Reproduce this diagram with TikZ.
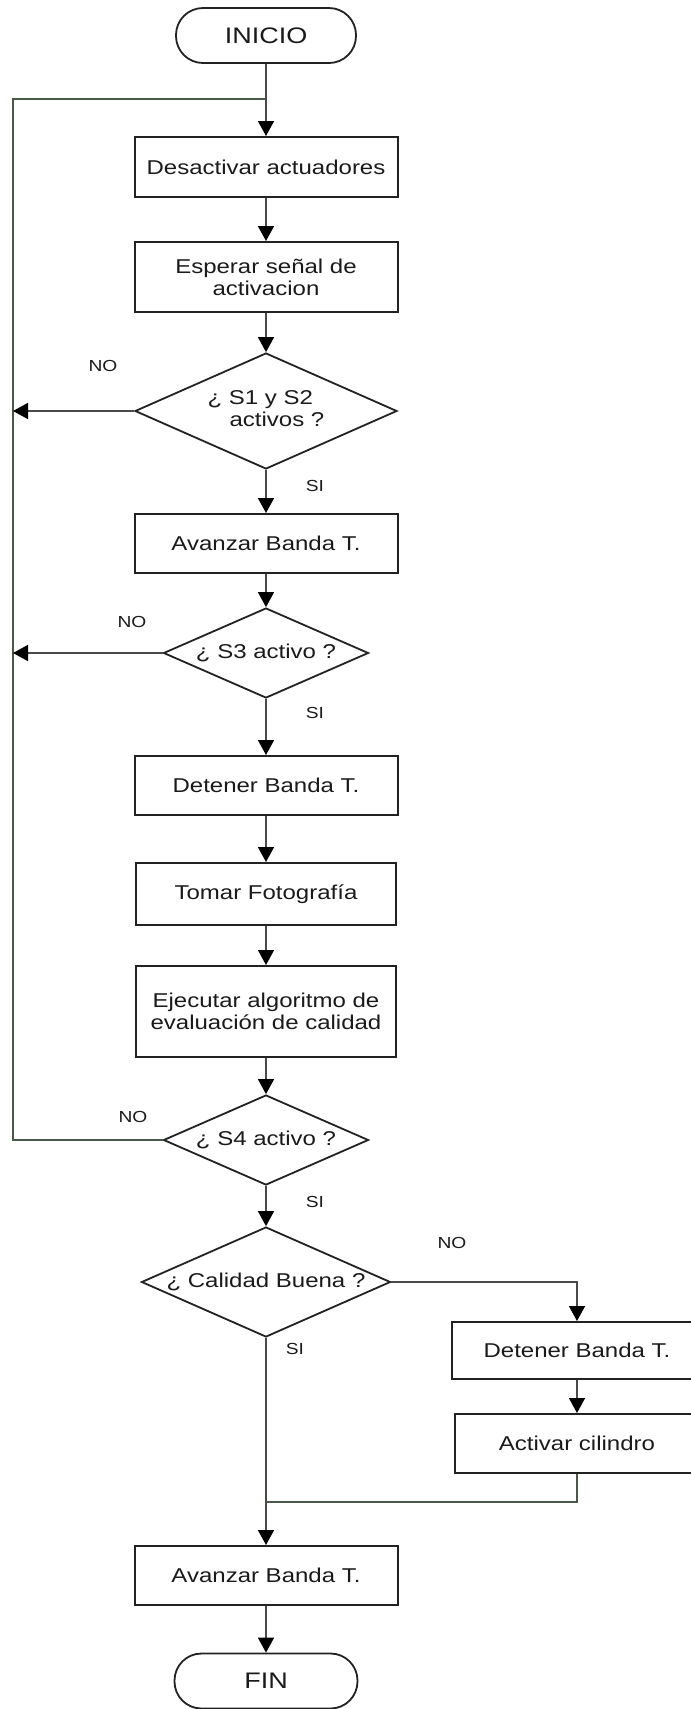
\documentclass[tikz,border=0pt]{standalone}
\usepackage{fontspec}
\setmainfont{Liberation Sans}[FakeStretch=1.2]
\usetikzlibrary{shapes.geometric,arrows.meta}

\definecolor{boxcol}{HTML}{222222}
\definecolor{linecol}{HTML}{4A4A4A}
\definecolor{loopcol}{HTML}{4A584A}
\definecolor{textcol}{HTML}{1A1A1A}

\newcommand{\boxfont}{\fontsize{20}{22}\selectfont}
\newcommand{\termfont}{\fontsize{22.5}{24}\selectfont}
\newcommand{\tagfont}{\fontsize{16}{18}\selectfont}
% text that does not enlarge the diamond around it
\newcommand{\thintext}[1]{\makebox[0pt][c]{#1}}

\tikzset{
  box/.style={draw=boxcol, line width=2pt, minimum width=263pt, inner sep=0pt,
    align=center, font=\boxfont, text=textcol},
  term/.style={draw=boxcol, line width=1.8pt, rounded corners=27pt,
    minimum width=180pt, minimum height=55pt, inner sep=0pt, font=\termfont, text=textcol},
  decision/.style={diamond, draw=boxcol, line width=1.8pt, inner sep=0pt,
    font=\boxfont, text=textcol},
  flow/.style={draw=linecol, line width=1.5pt,
    -{Triangle[width=16pt,length=15pt,color=black]}},
  link/.style={draw=loopcol, line width=1.5pt},
  tag/.style={font=\tagfont, text=textcol, inner sep=0pt}
}

\begin{document}
\begin{tikzpicture}[x=1pt, y=-1pt]
\useasboundingbox (0,0) rectangle (691,1709);
\clip (0,0) rectangle (691,1709);

% main column
\node[term] (start) at (266,35.5) {INICIO};
\node[box, minimum height=60pt] (desact) at (266,167) {Desactivar actuadores};
\node[box, minimum height=70pt] (wait) at (266,277) {Esperar señal de\\activacion};
\node[decision, minimum width=262pt, minimum height=116pt] (q12) at (266,411)
  {\thintext{\begin{tabular}{@{}l@{}}¿ S1 y S2\\\hspace*{22pt}activos ?\end{tabular}}};
\node[box, minimum height=59pt] (fwd1) at (266,543.5) {Avanzar Banda T.};
\node[decision, minimum width=205pt, minimum height=90pt] (q3) at (266,653) {\thintext{¿ S3 activo ?}};
\node[box, minimum height=59pt] (stop1) at (266,785.5) {Detener Banda T.};
\node[box, minimum width=260pt, minimum height=62pt] (photo) at (266,894) {Tomar Fotografía};
\node[box, minimum width=260pt, minimum height=91pt] (eval) at (266,1011.5)
  {Ejecutar algoritmo de\\evaluación de calidad};
\node[decision, minimum width=205pt, minimum height=90pt] (q4) at (266,1140) {\thintext{¿ S4 activo ?}};
\node[decision, minimum width=249pt, minimum height=110pt] (qual) at (266,1282) {\thintext{¿ Calidad Buena ?}};
\node[box, minimum height=59pt] (fwd2) at (266,1575.5) {Avanzar Banda T.};
\node[term, minimum width=183pt] (end) at (266,1681) {FIN};

% reject branch
\node[box, minimum width=250pt, minimum height=57pt] (stop2) at (577,1350.5) {Detener Banda T.};
\node[box, minimum width=245pt, minimum height=59pt] (cyl) at (577,1443.5) {Activar cilindro};

% branch labels
\node[tag] (no1) at (103,366) {NO};
\node[tag] (si1) at (315,486) {SI};
\node[tag] (no2) at (132,622) {NO};
\node[tag] (si2) at (315,713) {SI};
\node[tag] (no3) at (133,1117) {NO};
\node[tag] (si3) at (315,1202) {SI};
\node[tag] (no4) at (452,1243) {NO};
\node[tag] (si4) at (295,1349) {SI};

% return path points
\coordinate (rejoin) at (266,99);
\coordinate (rail) at (13,99);
\coordinate (merge) at (266,1502);

% forward flow
\draw[flow] (start) -- (desact);
\draw[flow] (desact) -- (wait);
\draw[flow] (wait) -- (q12);
\draw[flow] (q12) -- (fwd1);
\draw[flow] (fwd1) -- (q3);
\draw[flow] (q3) -- (stop1);
\draw[flow] (stop1) -- (photo);
\draw[flow] (photo) -- (eval);
\draw[flow] (eval) -- (q4);
\draw[flow] (q4) -- (qual);
\draw[flow] (qual.south) -- (fwd2.north);
\draw[flow] (fwd2) -- (end);

% loop back to the start
\draw[link] (q4.west) -- (q4.west -| rail) -- (rail) -- (rejoin);
\draw[flow] (q12.west) -- (q12.west -| rail);
\draw[flow] (q3.west) -- (q3.west -| rail);

% reject branch flow
\draw[flow] (qual.east) -| (stop2.north);
\draw[flow] (stop2) -- (cyl);
\draw[link] (cyl.south) |- (merge);
\end{tikzpicture}
\end{document}
